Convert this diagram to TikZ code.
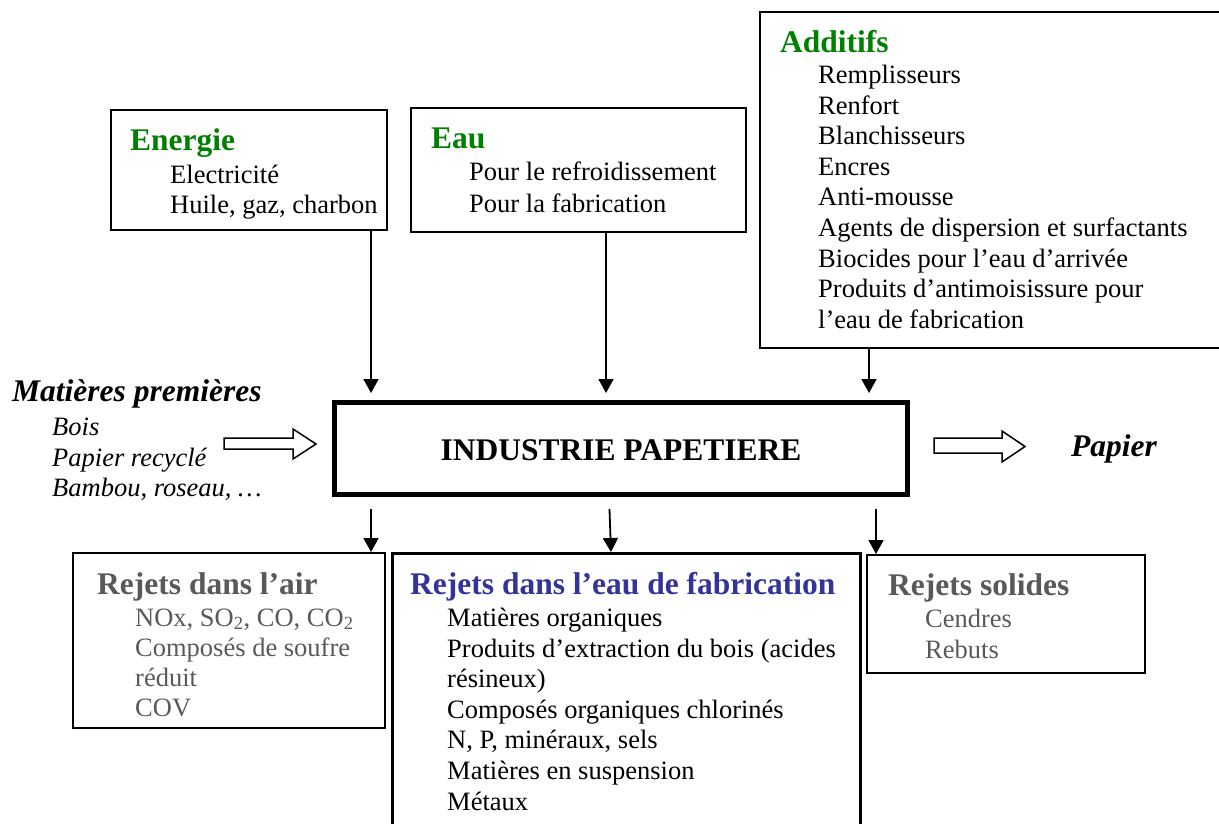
\documentclass[tikz,border=0pt]{standalone}
\usepackage{fontspec}
\setmainfont{Liberation Serif}
\usetikzlibrary{arrows.meta}
\definecolor{titlegreen}{RGB}{0,128,0}
\definecolor{titleblue}{RGB}{51,51,153}
\definecolor{rejgray}{RGB}{89,89,89}
\begin{document}
\begin{tikzpicture}[x=1pt,y=-1pt,
  body/.style={inner sep=0pt, anchor=base west, font=\fontsize{26.5}{30.5}\selectfont},
  ttl/.style={inner sep=0pt, anchor=base west, font=\fontsize{31.5}{36}\selectfont\bfseries},
  frame/.style={draw, line width=1.5pt, outer sep=0pt, inner sep=0pt, anchor=north west},
  openframe/.style={draw=none, outer sep=0pt, inner sep=0pt, anchor=north west},
  openline/.style={line width=1.5pt},
  arr/.style={line width=1.8pt, -{Triangle[length=14pt,width=15pt]}},
  hollow/.style={draw, line width=1.5pt, fill=white, line join=miter}
]
\useasboundingbox (0,0) rectangle (1219,824);

% ---------- boxes ----------
\node[frame, minimum width=276pt, minimum height=120pt] (energie) at (111,110) {};
\node[frame, minimum width=335pt, minimum height=124pt] (eau) at (411,108) {};
\node[openframe, minimum width=459pt, minimum height=336pt] (add) at (760,12) {};
\draw[openline] (add.north east) -- (add.north west) -- (add.south west) -- (add.south east);
\node[frame, line width=5pt, minimum width=572.5pt, minimum height=92.5pt] (main) at (334.5,402) {};
\node[frame, minimum width=312pt, minimum height=175pt] (air) at (73,553) {};
\node[openframe, minimum width=468pt, minimum height=280pt] (fab) at (392,553) {};
\draw[openline, line width=3pt] (fab.south west) -- (fab.north west) -- (fab.north east) -- (fab.south east);
\node[frame, minimum width=278pt, minimum height=118pt] (sol) at (867,555) {};

% ---------- texts ----------
\node[ttl, text=titlegreen] (tE) at (130,151) {Energie};
\node[body] (tE1) at (170,183) {Electricité};
\node[body] (tE2) at (170,214) {Huile, gaz, charbon};

\node[ttl, text=titlegreen] (tW) at (431,149) {Eau};
\node[body] (tW1) at (469,181) {Pour le refroidissement};
\node[body] (tW2) at (469,212) {Pour la fabrication};

\node[ttl, text=titlegreen] (tA) at (780,53) {Additifs};
\node[body] (tA1) at (818,84) {Remplisseurs};
\node[body] (tA2) at (818,114.5) {Renfort};
\node[body] (tA3) at (818,145) {Blanchisseurs};
\node[body] (tA4) at (818,175.5) {Encres};
\node[body] (tA5) at (818,206) {Anti-mousse};
\node[body] (tA6) at (818,236.5) {Agents de dispersion et surfactants};
\node[body] (tA7) at (818,267) {Biocides pour l’eau d’arrivée};
\node[body] (tA8) at (818,297.5) {Produits d’antimoisissure pour};
\node[body] (tA9) at (818,328) {l’eau de fabrication};

\node[ttl, font=\fontsize{31.5}{36}\selectfont\bfseries\itshape] (tM) at (12,401) {Matières premières};
\node[body, font=\fontsize{26.5}{30.5}\selectfont\itshape] (tM1) at (52,435) {Bois};
\node[body, font=\fontsize{26.5}{30.5}\selectfont\itshape] (tM2) at (52,466) {Papier recyclé};
\node[body, font=\fontsize{26.5}{30.5}\selectfont\itshape] (tM3) at (52,496) {Bambou, roseau, …};

\node[inner sep=0pt, anchor=base, font=\fontsize{31.5}{36}\selectfont\bfseries] (tI) at (621,460) {INDUSTRIE PAPETIERE};

\node[ttl, font=\fontsize{31.5}{36}\selectfont\bfseries\itshape] (tP) at (1071,456) {Papier};

\node[ttl, text=rejgray] (tR) at (97,594) {Rejets dans l’air};
\node[body, text=rejgray] (tR1) at (135,626) {NOx, SO\textsubscript{2}, CO, CO\textsubscript{2}};
\node[body, text=rejgray] (tR2) at (135,656) {Composés de soufre};
\node[body, text=rejgray] (tR3) at (135,686) {réduit};
\node[body, text=rejgray] (tR4) at (135,716) {COV};

\node[ttl, text=titleblue] (tF) at (410,594) {Rejets dans l’eau de fabrication};
\node[body] (tF1) at (447,626) {Matières organiques};
\node[body] (tF2) at (447,657) {Produits d’extraction du bois (acides};
\node[body] (tF3) at (447,687) {résineux)};
\node[body] (tF4) at (447,718) {Composés organiques chlorinés};
\node[body] (tF5) at (447,748) {N, P, minéraux, sels};
\node[body] (tF6) at (447,779) {Matières en suspension};
\node[body] (tF7) at (447,810) {Métaux};

\node[ttl, text=rejgray] (tS) at (888,595) {Rejets solides};
\node[body, text=rejgray] (tS1) at (925,627) {Cendres};
\node[body, text=rejgray] (tS2) at (925,658) {Rebuts};

% ---------- connectors ----------
\coordinate (cE) at (371,0);
\coordinate (cW) at (606,0);
\coordinate (cA) at (869,0);
\coordinate (dL) at (371,0);
\coordinate (dMa) at (609,0);
\coordinate (dMb) at (611,0);
\coordinate (dR) at (876,0);

\draw[arr, shorten >=9pt] (energie.south -| cE) -- (main.north -| cE);
\draw[arr, shorten >=9pt] (eau.south -| cW) -- (main.north -| cW);
\draw[arr, shorten >=9pt] (add.south -| cA) -- (main.north -| cA);

\draw[arr, shorten <=14.5pt, shorten >=1pt] (main.south -| dL) -- (air.north -| dL);
\draw[arr, shorten <=14.5pt, shorten >=1pt] (main.south -| dMa) -- (fab.north -| dMb);
\draw[arr, shorten <=14.5pt, shorten >=1pt] (main.south -| dR) -- (sol.north -| dR);

% ---------- hollow arrows ----------
\draw[hollow] (224,438) -- (293,438) -- (293,429) -- (316,444) -- (293,459) -- (293,449) -- (224,449) -- cycle;
\draw[hollow] (934,438) -- (1002,438) -- (1002,431) -- (1025,446.5) -- (1002,462) -- (1002,453) -- (934,453) -- cycle;
\end{tikzpicture}
\end{document}
